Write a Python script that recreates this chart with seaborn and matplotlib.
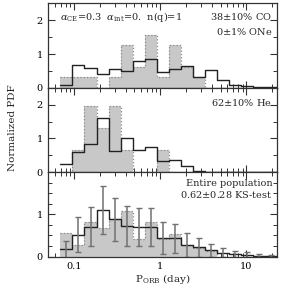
import numpy as np
import matplotlib
matplotlib.use("Agg")
import matplotlib.pyplot as plt
from matplotlib.ticker import FixedLocator, LogLocator, NullFormatter
import seaborn as sns

# bin edges in log10(P/day)
log_edges = [-1.16, -1.02, -0.88, -0.74, -0.60, -0.46, -0.32, -0.18, -0.04,
             0.10, 0.24, 0.38, 0.52, 0.66, 0.80, 0.94, 1.08, 1.22, 1.36]

# panel 1: CO / ONe
obs_co = [0.31, 0.31, 0.31, 0.0, 0.31, 1.26, 0.63, 1.57, 0.31, 1.26, 0.63, 0.31,
          0.0, 0.0, 0.0, 0.0, 0.0, 0.0]
mod_co = [0.07, 0.69, 0.59, 0.42, 0.55, 0.50, 0.78, 0.85, 0.48, 0.56, 0.66, 0.31,
          0.54, 0.22, 0.09, 0.05, 0.02, 0.01]

# panel 2: He
obs_he = [0.0, 0.65, 1.96, 1.31, 1.96, 0.65, 0.0, 0.0, 0.65, 0.0, 0.0, 0.0,
          0.0, 0.0, 0.0, 0.0, 0.0, 0.0]
mod_he = [0.24, 0.60, 0.83, 1.60, 0.64, 1.02, 0.66, 0.74, 0.33, 0.36, 0.17, 0.05,
          0.02, 0.01, 0.01, 0.0, 0.0, 0.0]

# panel 3: entire population
obs_all = [0.55, 0.27, 0.81, 0.67, 0.90, 1.08, 0.41, 0.81, 0.41, 0.54, 0.27, 0.20,
           0.13, 0.0, 0.0, 0.0, 0.0, 0.0]
mod_all = [0.17, 0.52, 0.71, 1.10, 0.88, 0.72, 0.70, 0.70, 0.43, 0.43, 0.28, 0.22,
           0.15, 0.09, 0.06, 0.04, 0.02, 0.01]
err_all = [0.21, 0.41, 0.46, 0.57, 0.51, 0.47, 0.46, 0.45, 0.38, 0.35, 0.28, 0.23,
           0.15, 0.11, 0.08, 0.06, 0.03, 0.02]

labels_top = [r"$\alpha_{\rm CE}$=0.3  $\alpha_{\rm int}$=0.  n(q)=1"]
labels_right = [["38$\\pm$10% CO", "0$\\pm$1% ONe"],
                ["62$\\pm$10% He"],
                ["Entire population", "0.62$\\pm$0.28 KS-test"]]

sns.set_theme(style="ticks")
plt.rcParams["font.family"] = ["DejaVu Serif"]
plt.rcParams["mathtext.fontset"] = "dejavuserif"
plt.rcParams["font.size"] = 7

centers = 10 ** (0.5 * (np.array(log_edges[:-1]) + np.array(log_edges[1:])))

fig = plt.figure(figsize=(2.87, 2.87), dpi=100)
gs = fig.add_gridspec(3, 1, left=0.168, right=0.964, top=0.988, bottom=0.106, hspace=0)
axes = [fig.add_subplot(gs[i]) for i in range(3)]

GRAY = "#c8c8c8"
panels = [(obs_co, mod_co), (obs_he, mod_he), (obs_all, mod_all)]

for i, (ax, (obs, mod)) in enumerate(zip(axes, panels)):
    # observed: grey filled steps with dotted outline
    sns.histplot(x=centers, weights=obs, bins=log_edges, log_scale=True, element="step",
                 fill=True, color=GRAY, alpha=1, linewidth=0, ax=ax)
    sns.histplot(x=centers, weights=obs, bins=log_edges, log_scale=True, element="step",
                 fill=False, color="#8a8a8a", linewidth=0.9, linestyle=":", ax=ax)
    # model: dark step line
    sns.histplot(x=centers, weights=mod, bins=log_edges, log_scale=True, element="step",
                 fill=False, color="#222222", linewidth=1.0, ax=ax)
    ax.set_xlim(0.05, 22.4)
    ax.set_xlabel("")
    ax.set_ylabel("")
    ax.xaxis.set_major_locator(FixedLocator([0.1, 1, 10]))
    ax.xaxis.set_minor_locator(LogLocator(base=10, subs=np.arange(2, 10)))
    ax.xaxis.set_minor_formatter(NullFormatter())
    ax.tick_params(which="both", direction="in", top=True, right=True,
                   colors="#333333", labelcolor="black", labelsize=7)
    ax.tick_params(which="major", length=5, width=0.8, pad=4)
    ax.tick_params(which="minor", length=3, width=0.7)
    for s in ax.spines.values():
        s.set_visible(True)
        s.set_linewidth(0.9)
        s.set_color("#333333")
    if i < 2:
        ax.set_ylim(0, 2.5)
        ax.yaxis.set_major_locator(FixedLocator([0, 1, 2]))
        ax.yaxis.set_minor_locator(FixedLocator([0.5, 1.5]))
        ax.set_xticklabels([])
    else:
        ax.set_ylim(0, 2)
        ax.yaxis.set_major_locator(FixedLocator([0, 1]))
        ax.yaxis.set_minor_locator(FixedLocator([0.25, 0.5, 0.75, 1.25, 1.5, 1.75]))
        ax.set_xticklabels(["0.1", "1", "10"])

axes[2].errorbar(centers, mod_all, yerr=err_all, fmt="none", ecolor="#707070",
                 elinewidth=1.1, capsize=2, capthick=1.0, clip_on=True)

axes[0].text(0.05, 0.845, labels_top[0], transform=axes[0].transAxes,
             ha="left", va="center", fontsize=7)
ys = [[0.845, 0.67], [0.826], [0.868, 0.736]]
for ax, labs, yy in zip(axes, labels_right, ys):
    for lab, y in zip(labs, yy):
        ax.text(0.982, y, lab, transform=ax.transAxes, ha="right", va="center", fontsize=7)

fig.text(0.042, 0.555, "Normalized PDF", rotation=90, ha="center", va="center", fontsize=7.5)
axes[2].set_xlabel(r"P$_{\rm ORB}$ (day)", fontsize=7.5, labelpad=0.5)

fig.savefig("out.png", dpi=100)
